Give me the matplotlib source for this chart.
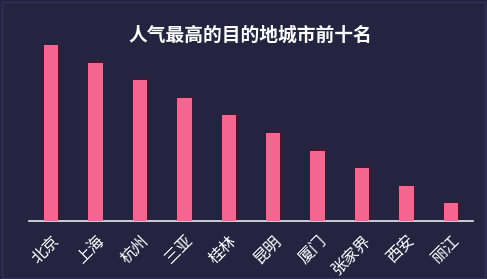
import matplotlib
matplotlib.use("Agg")
import matplotlib.pyplot as plt
import matplotlib.patheffects as pe
from matplotlib.patches import Rectangle

plt.rcParams['font.family'] = ['Noto Sans CJK SC', 'DejaVu Sans']

cities = ["北京", "上海", "杭州", "三亚", "桂林", "昆明", "厦门", "张家界", "西安", "丽江"]
popularity = [10, 9, 8, 7, 6, 5, 4, 3, 2, 1]
title = "人气最高的目的地城市前十名"

bg = "#252340"
bar_color = "#f4668f"

fig = plt.figure(figsize=(4.87, 2.79), dpi=100, facecolor=bg)
ax = fig.add_axes([29 / 487, 58 / 279, 444 / 487, 176 / 279], facecolor=bg)

x = list(range(len(cities)))
bars = ax.bar(x, popularity, width=0.32, color=bar_color, zorder=3)
for b in bars:
    b.set_path_effects([pe.SimplePatchShadow(offset=(1.2, 0.8), shadow_rgbFace="#5a1028", alpha=0.9),
                        pe.Normal()])

ax.set_xlim(-0.5, len(cities) - 0.5)
ax.set_ylim(0, 10)
ax.set_yticks([])
for s in ["top", "right", "left"]:
    ax.spines[s].set_visible(False)
ax.spines["bottom"].set_color("#e8e8f0")
ax.spines["bottom"].set_linewidth(1.2)

ax.set_xticks(x)
ax.set_xticklabels(cities, rotation=45, ha="right", rotation_mode="anchor",
                   color="white", fontsize=11.5)
ax.tick_params(axis="x", length=0, pad=8)

fig.text(250 / 487, 1 - 35 / 279, title, ha="center", va="center", color="white",
         fontsize=13.5, fontweight="bold")

# thin frame around the card
fig.patches.append(Rectangle((0.004, 0.004), 0.992, 0.99, transform=fig.transFigure,
                             fill=False, edgecolor="#34325a", linewidth=1.0))

fig.savefig("out.png", dpi=100, facecolor=bg)
